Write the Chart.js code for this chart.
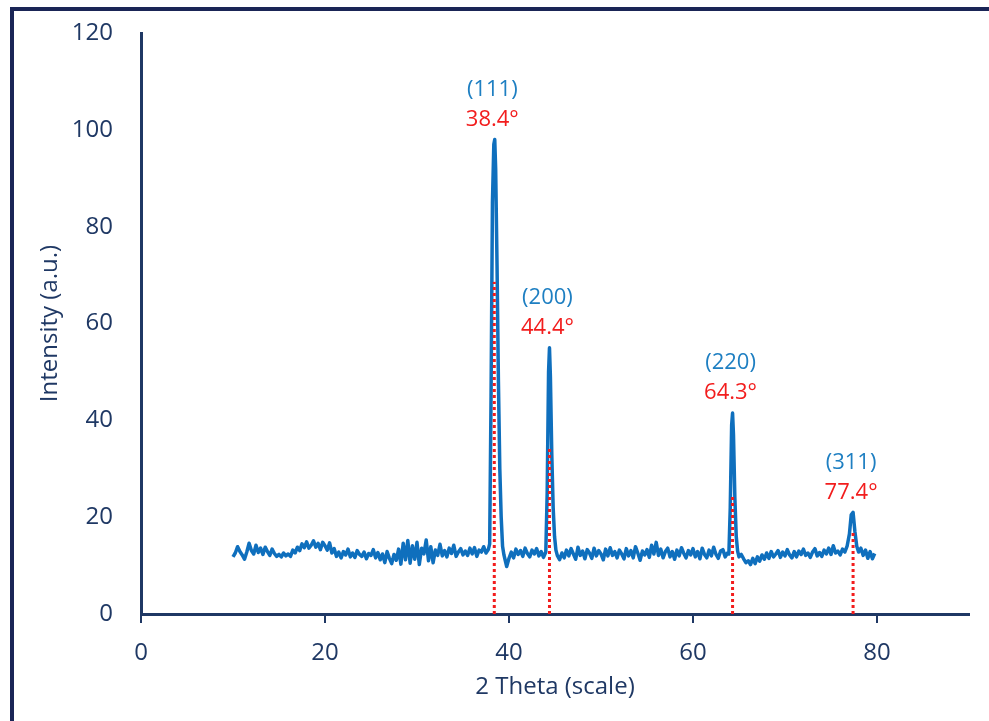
<!DOCTYPE html>
<html>
<head>
<meta charset="utf-8">
<script src="https://cdn.jsdelivr.net/npm/chart.js@4.4.1/dist/chart.umd.min.js"></script>
<style>
  html, body { margin: 0; padding: 0; background: #fff; overflow: hidden; }
  #wrap { position: relative; width: 989px; height: 721px; overflow: hidden; }
  #frame { position: absolute; left: 10px; top: 7px; width: 1000px; height: 730px;
           border-left: 4px solid #1a2556; border-top: 4px solid #1a2556; pointer-events: none; }
</style>
</head>
<body>
<div id="wrap">
  <canvas id="xrd" width="989" height="721"></canvas>
  <div id="frame"></div>
</div>
<script>
// scan, one row per degree (extra points around the peaks)
const twoTheta = [
  10, 10.25, 10.5, 10.75,
  11, 11.25, 11.5, 11.75,
  12, 12.25, 12.5, 12.75,
  13, 13.25, 13.5, 13.75,
  14, 14.25, 14.5, 14.75,
  15, 15.25, 15.5, 15.75,
  16, 16.25, 16.5, 16.75,
  17, 17.25, 17.5, 17.75,
  18, 18.25, 18.5, 18.75,
  19, 19.25, 19.5, 19.75,
  20, 20.25, 20.5, 20.75,
  21, 21.25, 21.5, 21.75,
  22, 22.25, 22.5, 22.75,
  23, 23.25, 23.5, 23.75,
  24, 24.25, 24.5, 24.75,
  25, 25.25, 25.5, 25.75,
  26, 26.25, 26.5, 26.75,
  27, 27.25, 27.5, 27.75,
  28, 28.25, 28.5, 28.75,
  29, 29.25, 29.5, 29.75,
  30, 30.25, 30.5, 30.75,
  31, 31.25, 31.5, 31.75,
  32, 32.25, 32.5, 32.75,
  33, 33.25, 33.5, 33.75,
  34, 34.25, 34.5, 34.75,
  35, 35.25, 35.5, 35.75,
  36, 36.25, 36.5, 36.75,
  37, 37.25, 37.5, 37.75,
  37.9, 38.05, 38.2, 38.35, 38.45, 38.55, 38.7, 38.85,
  39, 39.15, 39.3, 39.45, 39.6, 39.75,
  40, 40.25, 40.5, 40.75,
  41, 41.25, 41.5, 41.75,
  42, 42.25, 42.5, 42.75,
  43, 43.25, 43.5, 43.75,
  44, 44.15, 44.3, 44.4, 44.5, 44.65, 44.8, 44.95,
  45.1, 45.25, 45.5, 45.75,
  46, 46.25, 46.5, 46.75,
  47, 47.25, 47.5, 47.75,
  48, 48.25, 48.5, 48.75,
  49, 49.25, 49.5, 49.75,
  50, 50.25, 50.5, 50.75,
  51, 51.25, 51.5, 51.75,
  52, 52.25, 52.5, 52.75,
  53, 53.25, 53.5, 53.75,
  54, 54.25, 54.5, 54.75,
  55, 55.25, 55.5, 55.75,
  56, 56.25, 56.5, 56.75,
  57, 57.25, 57.5, 57.75,
  58, 58.25, 58.5, 58.75,
  59, 59.25, 59.5, 59.75,
  60, 60.25, 60.5, 60.75,
  61, 61.25, 61.5, 61.75,
  62, 62.25, 62.5, 62.75,
  63, 63.25, 63.5, 63.75,
  63.9, 64.05, 64.2, 64.3, 64.4, 64.55, 64.7, 64.85,
  65, 65.25, 65.5, 65.75,
  66, 66.25, 66.5, 66.75,
  67, 67.25, 67.5, 67.75,
  68, 68.25, 68.5, 68.75,
  69, 69.25, 69.5, 69.75,
  70, 70.25, 70.5, 70.75,
  71, 71.25, 71.5, 71.75,
  72, 72.25, 72.5, 72.75,
  73, 73.25, 73.5, 73.75,
  74, 74.25, 74.5, 74.75,
  75, 75.25, 75.5, 75.75,
  76, 76.25, 76.5, 76.75,
  77, 77.2, 77.4, 77.6, 77.8,
  78, 78.25, 78.5, 78.75,
  79, 79.25, 79.5, 79.75
]
const intensity = [
  11.8, 12.6, 13.9, 12.9,
  12.2, 11.3, 12.8, 14.6,
  13.1, 12.4, 14.2, 12.7,
  13.6, 12.3, 13.8, 12.9,
  12.1, 13.4, 12.5, 11.9,
  12.3, 11.8, 12.6, 12.0,
  12.4, 11.9, 13.2, 12.6,
  13.8, 13.1, 14.5, 13.7,
  14.9, 13.6, 14.2, 15.1,
  13.8, 14.6, 13.3, 14.8,
  14.1, 13.2, 14.7, 12.6,
  13.5, 11.9, 12.8, 11.6,
  12.9, 12.2, 13.4, 11.8,
  12.6, 11.7, 13.1, 12.3,
  11.9, 12.8, 11.4, 12.5,
  12.1, 13.3, 11.6, 12.7,
  11.2, 12.4, 10.6, 12.9,
  11.5, 10.4, 12.3, 11.1,
  13.4, 10.3, 14.6, 11.2,
  15.2, 10.5, 14.1, 11.3,
  14.8, 10.2, 13.6, 12.4,
  15.3, 11.0, 13.9, 10.6,
  13.2, 12.1, 14.4, 12.0,
  13.1, 11.8, 13.6, 12.5,
  14.2, 11.9, 12.8, 13.5,
  12.2, 13.0, 12.1, 13.6,
  12.4, 13.7, 11.9, 13.2,
  12.8, 13.9, 12.6, 13.3,
  14.5, 45, 85, 97, 98, 92, 72, 48,
  30, 20, 14, 12.2, 11.0, 9.8,
  11.5, 12.8, 11.6, 13.4,
  12.3, 13.1, 11.9, 13.6,
  12.5, 11.8, 13.2, 12.4,
  13.5, 12.0, 12.9, 11.7,
  12.8, 25, 50, 55, 49, 33, 22, 16,
  13.2, 12.1, 11.2, 12.6,
  11.6, 13.2, 12.0, 13.5,
  12.4, 11.3, 13.8, 12.1,
  13.0, 11.4, 13.3, 12.6,
  11.5, 13.6, 12.0, 13.1,
  12.4, 11.2, 13.4, 12.0,
  13.7, 12.1, 12.9, 11.6,
  13.2, 12.4, 11.4, 13.5,
  12.0, 13.1, 11.6, 13.9,
  12.6, 11.1, 13.0, 12.2,
  13.3, 11.7, 14.2, 12.4,
  14.8, 12.1, 13.4, 11.6,
  12.9, 13.6, 11.8, 12.9,
  11.3, 13.2, 12.0, 13.7,
  12.5, 11.6, 13.1, 12.2,
  13.5, 11.8, 12.9, 11.4,
  13.6, 12.3, 11.6, 13.2,
  12.0, 13.8, 12.3, 11.5,
  13.0, 13.3, 11.8, 12.6,
  12.4, 22, 39, 41.5, 37, 24, 16, 13,
  11.8, 12.3, 11.4, 10.6,
  11.0, 10.2, 11.5, 10.4,
  11.8, 10.9, 12.2, 11.3,
  12.6, 11.5, 12.9, 11.8,
  12.4, 13.1, 11.7, 12.8,
  12.0, 13.3, 12.2, 11.6,
  12.9, 11.8, 13.0, 12.3,
  13.4, 12.1, 12.6, 11.7,
  12.8, 13.5, 12.0, 12.7,
  11.9, 13.2, 12.4, 13.6,
  12.3, 14.1, 12.6, 13.0,
  12.2, 13.4, 12.8, 14.0,
  16.5, 20.5, 21, 17, 14,
  12.8, 13.6, 12.1, 13.2,
  11.5, 12.9, 11.4, 12.5
]

// peaks: position, miller index, apex intensity, height of the red drop line
const peakAngle = [38.4, 44.4, 64.3, 77.4]
const millerIndex = ['(111)', '(200)', '(220)', '(311)']
const peakTop = [98, 55, 41.5, 21]
const dropTop = [68.6, 34.5, 24.6, 17]

const xTicks = [0, 20, 40, 60, 80]

const navy = '#1f3864'
const lineBlue = '#0f6fbd'
const labelBlue = '#1e7fc2'
const red = '#f21d1d'

Chart.defaults.font.family = "'Open Sans', sans-serif"

// draws the (hkl) and angle texts above each peak
const peakLabels = {
  id: 'peakLabels',
  afterDatasetsDraw(chart) {
    const { ctx, scales: { x, y } } = chart
    ctx.save()
    ctx.font = "22px 'Open Sans', sans-serif"
    ctx.textAlign = 'center'
    ctx.textBaseline = 'middle'
    peakAngle.forEach((a, i) => {
      const px = x.getPixelForValue(a) - 2
      const py = y.getPixelForValue(peakTop[i])
      ctx.fillStyle = labelBlue
      ctx.fillText(millerIndex[i], px, py - 50)
      ctx.fillStyle = red
      ctx.fillText(a.toFixed(1) + '°', px, py - 20)
    })
    ctx.restore()
  }
}

const dropLines = peakAngle.map((a, i) => ({
  data: [{ x: a, y: 0 }, { x: a, y: dropTop[i] }],
  borderColor: red,
  borderWidth: 3,
  borderDash: [3, 3],
  pointRadius: 0,
  order: 0
}))

new Chart(document.getElementById('xrd'), {
  type: 'line',
  data: {
    datasets: [
      {
        data: twoTheta.map((t, i) => ({ x: t, y: intensity[i] })),
        borderColor: lineBlue,
        borderWidth: 3.5,
        borderJoinStyle: 'round',
        pointRadius: 0,
        tension: 0,
        order: 1
      },
      ...dropLines
    ]
  },
  options: {
    responsive: false,
    animation: false,
    devicePixelRatio: 1,
    layout: { padding: { top: 33, right: 20, left: 0, bottom: 0 } },
    plugins: { legend: { display: false }, tooltip: { enabled: false } },
    scales: {
      x: {
        type: 'linear',
        min: 0,
        max: 90,
        afterBuildTicks: s => { s.ticks = xTicks.map(v => ({ value: v })) },
        afterFit: s => { s.height = 107 },
        ticks: { color: navy, font: { size: 24 }, padding: 16 },
        grid: { drawOnChartArea: false, drawTicks: true, tickLength: 9, color: navy, lineWidth: 2 },
        border: { color: navy, width: 3 },
        title: { display: true, text: '2 Theta (scale)', color: navy, font: { size: 24 }, padding: { top: 0, bottom: 19 } }
      },
      y: {
        min: 0,
        max: 120,
        // label overflow would push the plot top down, the layout padding handles it
        afterFit: s => { s.width = 141; s.paddingTop = 0; s.paddingBottom = 0 },
        ticks: { stepSize: 20, color: navy, font: { size: 24 }, padding: 28 },
        grid: { display: false, drawTicks: false },
        border: { color: navy, width: 3 },
        title: { display: true, text: 'Intensity (a.u.)', color: navy, font: { size: 24 }, padding: { top: 36, bottom: 0 } }
      }
    }
  },
  plugins: [peakLabels]
})
</script>
</body>
</html>
